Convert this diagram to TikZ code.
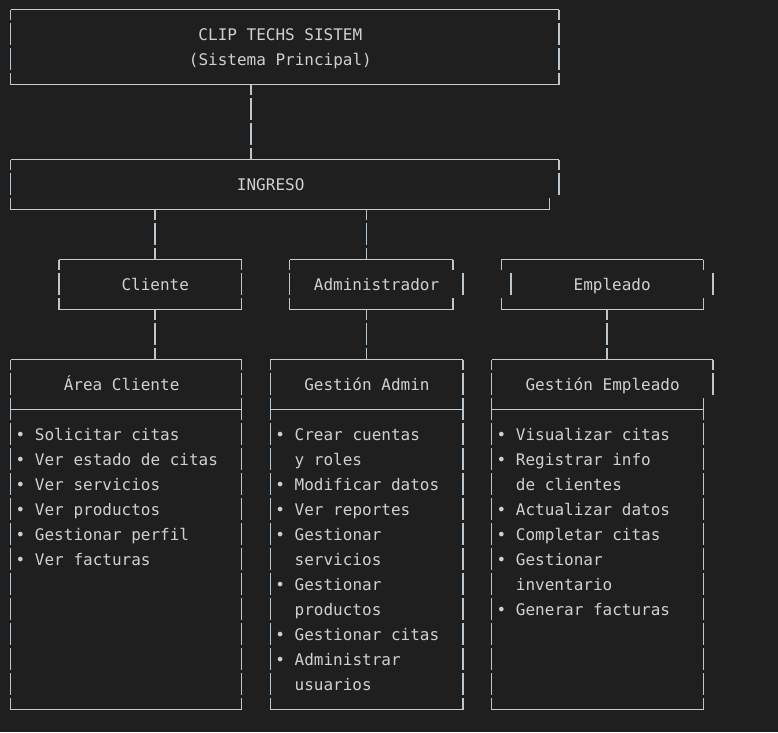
\documentclass[tikz,border=0pt]{standalone}
\usepackage{fontspec}
\setmonofont{DejaVu Sans Mono}
\usepackage{xcolor}
\usepackage{tikz}
\definecolor{bg}{HTML}{1F1F1F}
\definecolor{fg}{HTML}{D0D0D0}
\definecolor{linec}{HTML}{CCCCCC}
\definecolor{barc}{HTML}{BCC6CE}
\begin{document}
\begin{tikzpicture}[
  x=9.62pt, y=-25pt,
  txt/.style={anchor=base west, inner sep=0pt, text=fg, font=\ttfamily\fontsize{16pt}{19pt}\selectfont},
  hline/.style={draw=linec, line width=1.2pt},
  vline/.style={draw=barc, line width=1.5pt, dash pattern=on 21.7pt off 3.3pt, dash phase=11.7pt},
  vlinetop/.style={vline, dash phase=0pt}
]
\fill[bg] (-1.1123,-0.38) rectangle (79.761,28.9);

% Boxes
\draw[hline] (0,0) -- (57,0);
\draw[hline] (0,3) -- (57,3);
\draw[vline] (0,0) -- (0,3);
\draw[vline] (57,0) -- (57,3);

\draw[hline] (0,6) -- (57,6);
\draw[hline] (0,8) -- (56,8);
\draw[vline] (0,6) -- (0,8);
\draw[vline] (57,6) -- (57,7.4);
\draw[vlinetop] (56,7.532) -- (56,8);

\draw[hline] (5,10) -- (24,10);
\draw[hline] (5,12) -- (24,12);
\draw[vline] (5,10) -- (5,12);
\draw[vline] (24,10) -- (24,12);

\draw[hline] (29,10) -- (46,10);
\draw[hline] (29,12) -- (46,12);
\draw[vline] (29,10) -- (29,12);
\draw[vline] (46,10) -- (46,10.4);
\draw[vlinetop] (47,10.532) -- (47,11.4);
\draw[vlinetop] (46,11.532) -- (46,12);

\draw[hline] (51,10) -- (72,10);
\draw[hline] (51,12) -- (72,12);
\draw[vline] (51,10) -- (51,10.4);
\draw[vline] (72,10) -- (72,10.4);
\draw[vlinetop] (52,10.532) -- (52,11.4);
\draw[vlinetop] (73,10.532) -- (73,11.4);
\draw[vlinetop] (51,11.532) -- (51,12);
\draw[vlinetop] (72,11.532) -- (72,12);

\draw[hline] (0,14) -- (24,14);
\draw[hline] (0,16) -- (24,16);
\draw[hline] (0,28) -- (24,28);
\draw[vline] (0,14) -- (0,28);
\draw[vline] (24,14) -- (24,28);

\draw[hline] (27,14) -- (47,14);
\draw[hline] (27,16) -- (47,16);
\draw[hline] (27,28) -- (47,28);
\draw[vline] (27,14) -- (27,28);
\draw[vline] (47,14) -- (47,28);

\draw[hline] (50,14) -- (73,14);
\draw[hline] (50,16) -- (72,16);
\draw[hline] (50,28) -- (72,28);
\draw[vline] (50,14) -- (50,28);
\draw[vline] (73,14) -- (73,15.4);
\draw[vlinetop] (72,15.532) -- (72,28);

% Texts
\node[txt] (sys1) at (19.5,1.22) {CLIP TECHS SISTEM};
\node[txt] (sys2) at (18.5,2.22) {(Sistema Principal)};
\node[txt] (ing) at (23.5,7.22) {INGRESO};
\node[txt] (cli) at (11.5,11.22) {Cliente};
\node[txt] (adm) at (31.5,11.22) {Administrador};
\node[txt] (emp) at (58.5,11.22) {Empleado};
\node[txt] (acli) at (5.5,15.22) {Área Cliente};
\node[txt] (gadm) at (30.5,15.22) {Gestión Admin};
\node[txt] (gemp) at (53.5,15.22) {Gestión Empleado};

\foreach \r/\c/\t in {17/1/{• Solicitar citas}, 18/1/{• Ver estado de citas},
  19/1/{• Ver servicios}, 20/1/{• Ver productos}, 21/1/{• Gestionar perfil},
  22/1/{• Ver facturas},
  17/28/{• Crear cuentas}, 18/30/{y roles}, 19/28/{• Modificar datos},
  20/28/{• Ver reportes}, 21/28/{• Gestionar}, 22/30/{servicios},
  23/28/{• Gestionar}, 24/30/{productos}, 25/28/{• Gestionar citas},
  26/28/{• Administrar}, 27/30/{usuarios},
  17/51/{• Visualizar citas}, 18/51/{• Registrar info}, 19/53/{de clientes},
  20/51/{• Actualizar datos}, 21/51/{• Completar citas}, 22/51/{• Gestionar},
  23/53/{inventario}, 24/51/{• Generar facturas}}
  \node[txt] (it-\r-\c) at (\c-0.5,\r+0.22) {\t};

% Links
\coordinate (sys-s) at (25,3);
\coordinate (ing-n) at (25,6);
\coordinate (ing-s1) at (15,8);
\coordinate (ing-s2) at (37,8);
\coordinate (cli-n) at (15,10);
\coordinate (cli-s) at (15,12);
\coordinate (adm-n) at (37,10);
\coordinate (adm-s) at (37,12);
\coordinate (emp-s) at (62,12);
\coordinate (acli-n) at (15,14);
\coordinate (gadm-n) at (37,14);
\coordinate (gemp-n) at (62,14);
\draw[vline] (sys-s) -- (ing-n);
\draw[vline] (ing-s1) -- (cli-n);
\draw[vline] (ing-s2) -- (adm-n);
\draw[vline] (cli-s) -- (acli-n);
\draw[vline] (adm-s) -- (gadm-n);
\draw[vline] (emp-s) -- (gemp-n);
\end{tikzpicture}
\end{document}
